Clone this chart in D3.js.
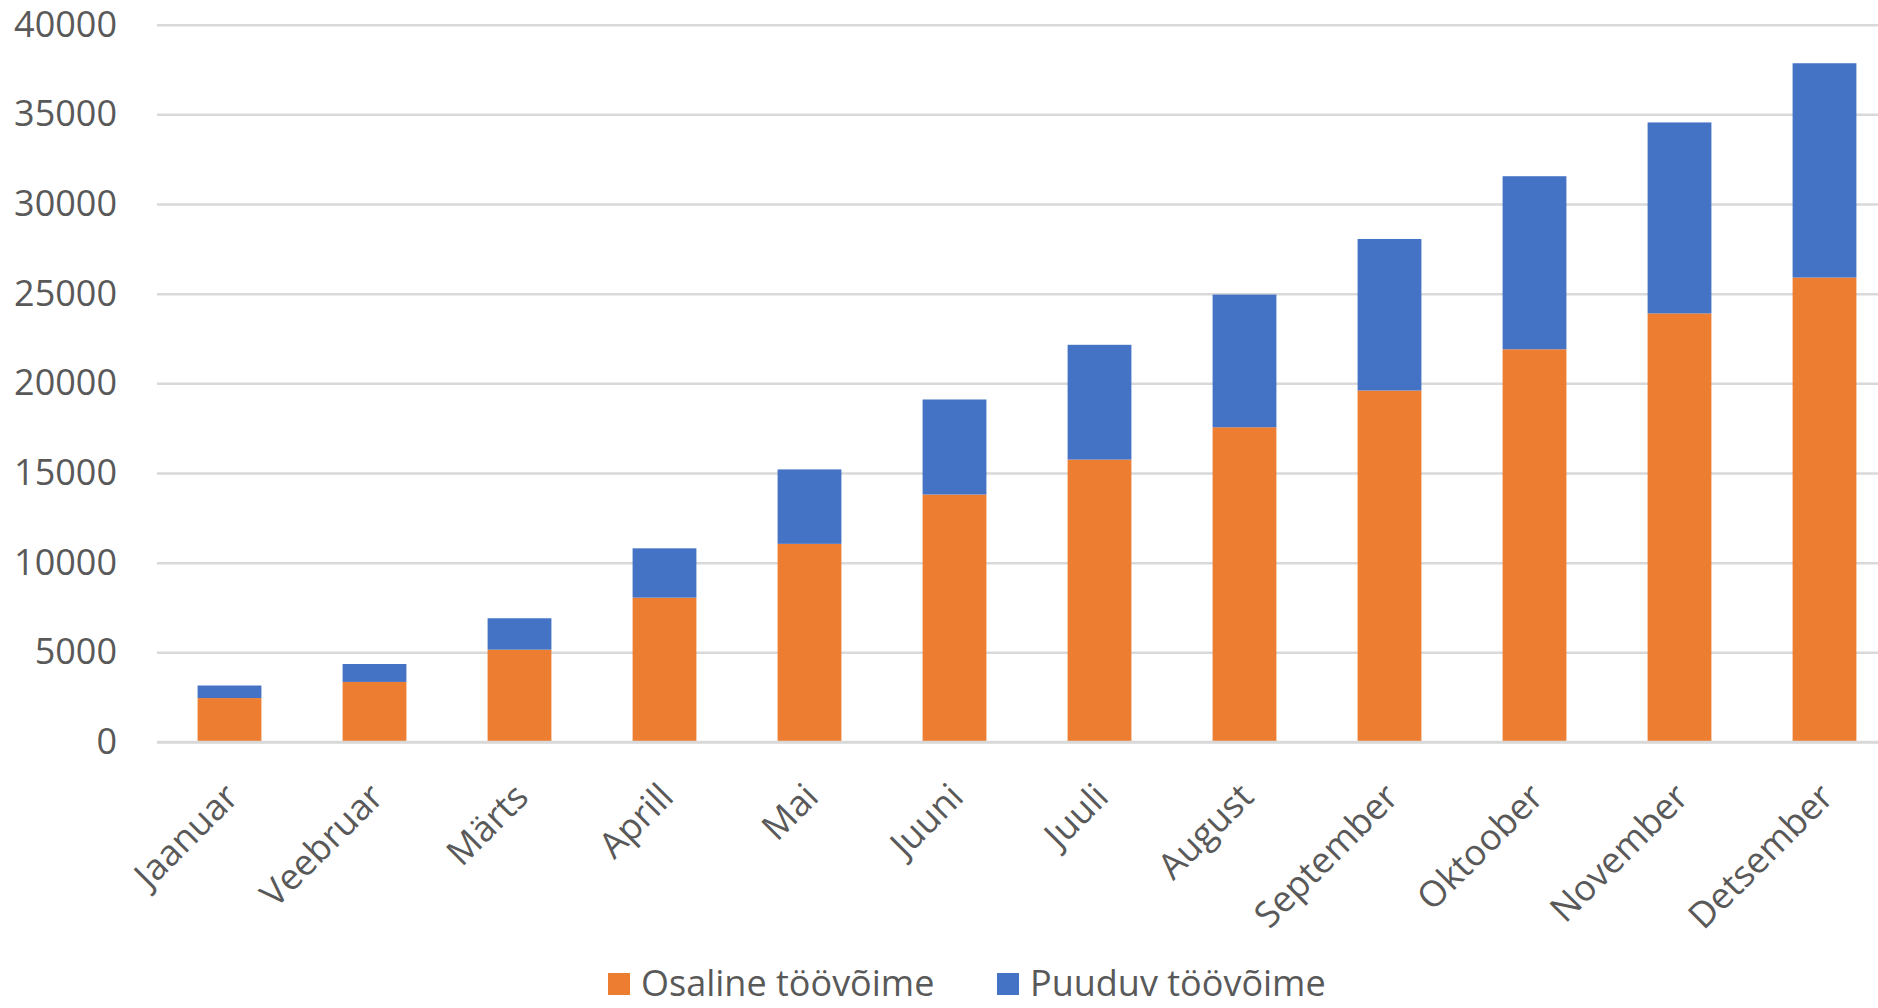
<!DOCTYPE html>
<html lang="et">

<head>
    <meta charset="UTF-8">
    <title>Töövõime</title>
    <script src="https://cdn.jsdelivr.net/npm/d3@7"></script>
</head>
<style>
    * {
        margin: 0;
        padding: 0;
    }

    body {
        background: #fff;
    }

    text {
        font-family: "Open Sans", "Noto Sans", sans-serif;
        fill: #595959;
    }
</style>

<body>
    <svg></svg>
</body>

</html>

<script>
    // andmed
    const months = ['Jaanuar', 'Veebruar', 'Märts', 'Aprill', 'Mai', 'Juuni', 'Juuli', 'August',
        'September', 'Oktoober', 'November', 'Detsember']
    const osaline = [2450, 3350, 5150, 8050, 11050, 13800, 15750, 17550, 19600, 21900, 23900, 25900]
    const puuduv = [700, 1000, 1750, 2750, 4150, 5300, 6400, 7400, 8450, 9650, 10650, 11950]
    const yTicks = [0, 5000, 10000, 15000, 20000, 25000, 30000, 35000, 40000]
    const seriesNames = ['Osaline töövõime', 'Puuduv töövõime']
    const colors = ['#ED7D31', '#4472C4']

    const W = 1878, H = 1008
    const svg = d3.select('svg').attr('width', W).attr('height', H)

    const rows = months.map((m, i) => ({ month: m, osaline: osaline[i], puuduv: puuduv[i] }))
    const stack = d3.stack().keys(['osaline', 'puuduv'])(rows)

    // skaalad (paremal pool lõigatud nagu originaalis)
    const x = d3.scaleBand().domain(months).range([157, 1897]).paddingInner(0.56).paddingOuter(0.28)
    const y = d3.scaleLinear().domain([0, 40000]).range([742, 24.7])

    // ruudustik
    const yAxis = d3.axisLeft(y).tickValues(yTicks).tickSize(-(W - 157)).tickFormat(d => d)
    const gy = svg.append('g').attr('transform', 'translate(157,0)').call(yAxis)
    gy.select('.domain').remove()
    gy.selectAll('line').attr('stroke', '#d9d9d9').attr('stroke-width', 2.5)
    gy.selectAll('text')
        .attr('x', -40)
        .attr('font-size', '36px')
        .attr('fill', '#595959')
        .style('font-family', '"Open Sans", sans-serif')

    // tulbad
    svg.append('g').selectAll('g')
        .data(stack)
        .join('g')
        .attr('fill', (d, i) => colors[i])
        .selectAll('rect')
        .data(d => d)
        .join('rect')
        .attr('x', d => x(d.data.month))
        .attr('width', x.bandwidth())
        .attr('y', d => y(d[1]))
        .attr('height', d => y(d[0]) - y(d[1]))

    // x telg
    const gx = svg.append('g').attr('transform', 'translate(0,742)')
        .call(d3.axisBottom(x).tickSize(0).tickPadding(0))
    gx.select('.domain').attr('stroke', '#d9d9d9').attr('stroke-width', 2.5)
        .attr('d', 'M157,0H' + W)
    gx.selectAll('text')
        .attr('font-size', '36px')
        .attr('fill', '#595959')
        .style('font-family', '"Open Sans", sans-serif')
        .attr('text-anchor', 'end')
        .attr('dy', 0)
        .attr('y', 0)
        .attr('transform', 'translate(11,57) rotate(-45)')

    // legend
    const legendX = [608, 997]
    const legend = svg.append('g').selectAll('g')
        .data(seriesNames)
        .join('g')
        .attr('transform', (d, i) => 'translate(' + legendX[i] + ',973)')
    legend.append('rect').attr('width', 22).attr('height', 22).attr('fill', (d, i) => colors[i])
    legend.append('text').attr('x', 33).attr('y', 23)
        .attr('font-size', '36px')
        .text(d => d)
</script>
